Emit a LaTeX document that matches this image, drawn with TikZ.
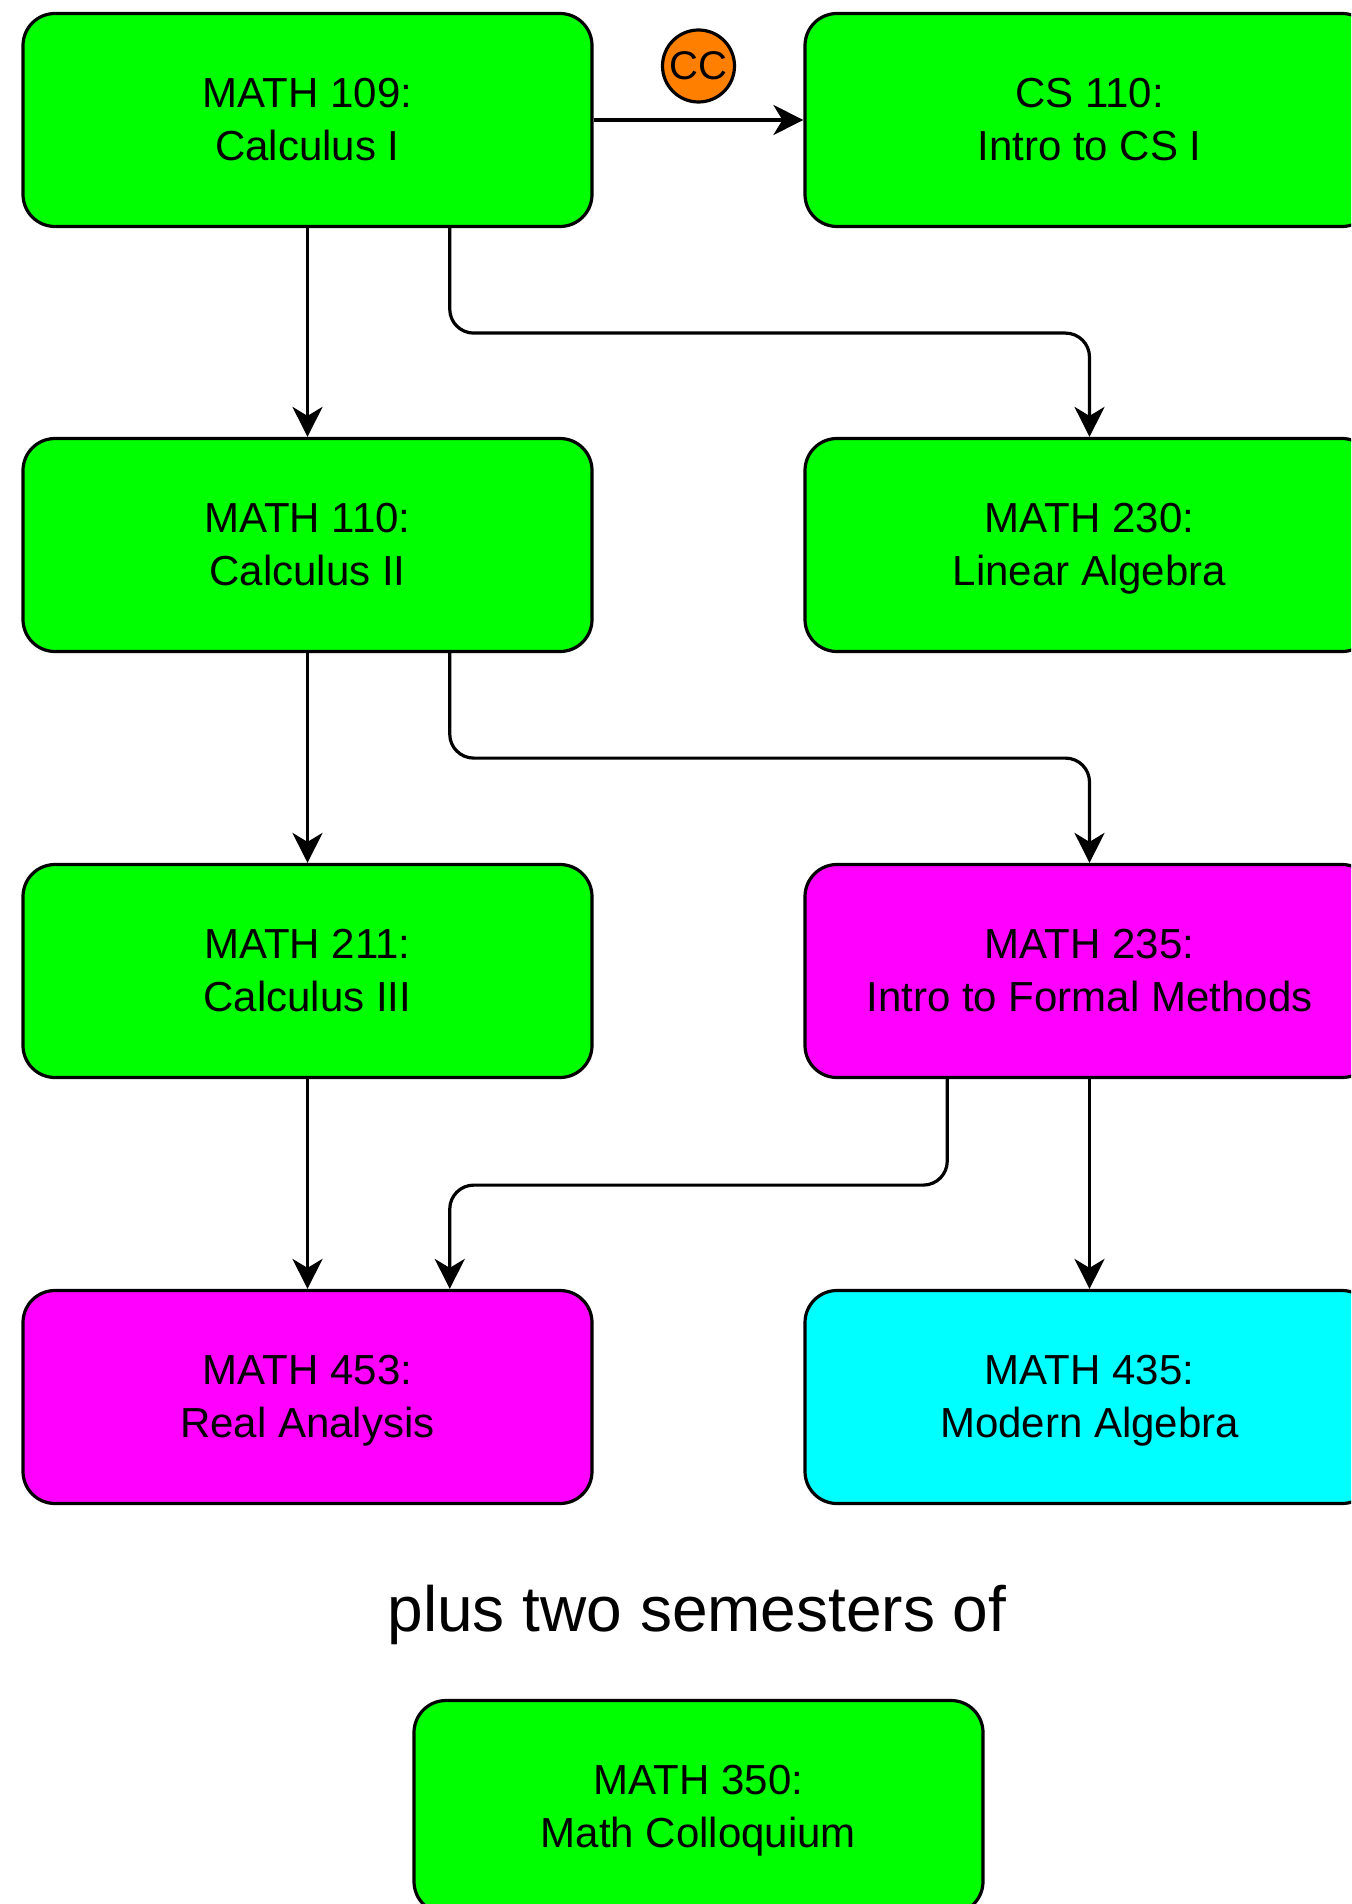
\documentclass[tikz,border=0pt]{standalone}
\usepackage{fontspec}
\setmainfont{Liberation Sans}
\usetikzlibrary{arrows.meta}
\definecolor{mygreen}{RGB}{0,255,0}
\definecolor{mymagenta}{RGB}{255,0,255}
\definecolor{mycyan}{RGB}{0,255,255}
\definecolor{myorange}{RGB}{255,128,0}

% two lines of a course box, struts keep them level
\newcommand{\coursetext}[2]{\rule{0pt}{22pt}#1\\\strut#2}

\tikzset{
    course/.style={draw, line width=1.6pt, rounded corners=16pt,
        minimum width=284.5pt, minimum height=106.5pt, inner sep=0pt,
        align=center, font=\fontsize{21}{26.5}\selectfont},
    link/.style={line width=1.6pt, rounded corners=12pt,
        -{Stealth[length=15pt, width=15pt, inset=4.5pt]}},
}

\begin{document}
\begin{tikzpicture}[x=0.5pt, y=-0.5pt]
    \useasboundingbox (0, 0) rectangle (1351, 1904);
    \clip (0, 0) rectangle (1351, 1904);
    % Courses
    \node[course, fill=mygreen] (m109) at (307.5, 120) {\coursetext{MATH 109:}{Calculus I}};
    \node[course, fill=mygreen] (cs110) at (1089.5, 120) {\coursetext{CS 110:}{Intro to CS I}};
    \node[course, fill=mygreen] (m110) at (307.5, 545) {\coursetext{MATH 110:}{Calculus II}};
    \node[course, fill=mygreen] (m230) at (1089.5, 545) {\coursetext{MATH 230:}{Linear Algebra}};
    \node[course, fill=mygreen] (m211) at (307.5, 971) {\coursetext{MATH 211:}{Calculus III}};
    \node[course, fill=mymagenta] (m235) at (1089.5, 971) {\coursetext{MATH 235:}{Intro to Formal Methods}};
    \node[course, fill=mymagenta] (m453) at (307.5, 1397) {\coursetext{MATH 453:}{Real Analysis}};
    \node[course, fill=mycyan] (m435) at (1089.5, 1397) {\coursetext{MATH 435:}{Modern Algebra}};
    % Colloquium
    \node[anchor=base, font=\fontsize{32}{38}\selectfont] (plus) at (697, 1631) {plus two semesters of};
    \node[course, fill=mygreen] (m350) at (698.5, 1807) {\coursetext{MATH 350:}{Math Colloquium}};
    % Co-requisite mark
    \node[circle, draw, line width=1.6pt, fill=myorange, minimum size=36pt, inner sep=0pt,
        font=\fontsize{20}{24}\selectfont] (cc) at (698.5, 66) {CC};
    % Prerequisites
    \draw[link] (m109.east) -- (cs110.west);
    \draw[link] (m109.south) -- (m110.north);
    \draw[link] ([xshift=71.125pt]m109.south) -- ++(0, -52.5pt) -| (m230.north);
    \draw[link] (m110.south) -- (m211.north);
    \draw[link] ([xshift=71.125pt]m110.south) -- ++(0, -52.5pt) -| (m235.north);
    \draw[link] (m211.south) -- (m453.north);
    \draw[link] ([xshift=-71.125pt]m235.south) -- ++(0, -53pt) -| ([xshift=71.125pt]m453.north);
    \draw[link] (m235.south) -- (m435.north);
\end{tikzpicture}
\end{document}
